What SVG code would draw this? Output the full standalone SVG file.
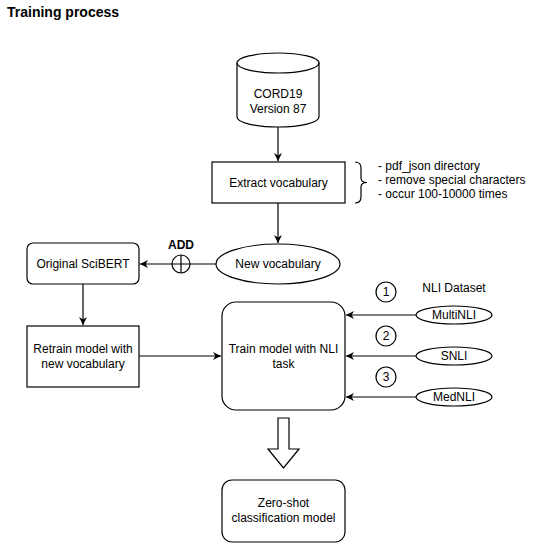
<svg xmlns="http://www.w3.org/2000/svg" width="537" height="550" viewBox="0 0 537 550">
<style>
text{font-family:"Liberation Sans",Arial,sans-serif;font-size:12px;fill:#000}
.c{text-anchor:middle}
.s{fill:#fff;stroke:#000;stroke-width:1.2}
.l{fill:none;stroke:#000;stroke-width:1.2}
.b{font-weight:bold}
</style>
<defs>
<marker id="ah" viewBox="0 0 10 10" refX="10" refY="5" markerWidth="8" markerHeight="8" markerUnits="userSpaceOnUse" orient="auto">
<path d="M0,0 L10,5 L0,10 L3,5 Z" fill="#000"/>
</marker>
</defs>
<rect width="537" height="550" fill="#fff"/>
<text x="7" y="17" class="b" style="font-size:14px">Training process</text>

<g id="connectors">
<line x1="278" y1="127" x2="278" y2="161" class="l" marker-end="url(#ah)"/>
<line x1="278" y1="203" x2="278" y2="243" class="l" marker-end="url(#ah)"/>
<line x1="216" y1="264" x2="140" y2="264" class="l" marker-end="url(#ah)"/>
<line x1="83" y1="284" x2="83" y2="325" class="l" marker-end="url(#ah)"/>
<line x1="139" y1="356" x2="221" y2="356" class="l" marker-end="url(#ah)"/>
<line x1="416" y1="315" x2="346" y2="315" class="l" marker-end="url(#ah)"/>
<line x1="416" y1="356" x2="346" y2="356" class="l" marker-end="url(#ah)"/>
<line x1="416" y1="397" x2="346" y2="397" class="l" marker-end="url(#ah)"/>
<path d="M278,418 L289,418 L289,449 L299,449 L283.5,468 L268,449 L278,449 Z" class="s"/>
</g>

<g id="add">
<circle cx="181" cy="264" r="9" class="s"/>
<path d="M172,264 H190 M181,255 V273" class="l"/>
<text x="181" y="249" class="c b">ADD</text>
</g>

<g id="cord19">
<path d="M237,63 A41,10 0 0 1 319,63 V117 A41,10 0 0 1 237,117 Z" class="s"/>
<path d="M237,63 A41,10 0 0 0 319,63" class="l"/>
<text x="278" y="98" class="c">CORD19</text>
<text x="278" y="113" class="c">Version 87</text>
</g>

<g id="extract">
<rect x="212" y="162" width="133" height="41" class="s"/>
<text x="278.5" y="187" class="c">Extract vocabulary</text>
</g>

<g id="notes">
<path d="M355,162 Q361,162 361,168 V178 Q361,182.5 367,182.5 Q361,182.5 361,187 V197 Q361,203 355,203" class="l"/>
<text x="378" y="170">- pdf_json directory</text>
<text x="378" y="184">- remove special characters</text>
<text x="378" y="198">- occur 100-10000 times</text>
</g>

<g id="newvocab">
<ellipse cx="278" cy="264" rx="62" ry="20" class="s"/>
<text x="278" y="268" class="c">New vocabulary</text>
</g>

<g id="scibert">
<rect x="27" y="243" width="112" height="41" rx="6" class="s"/>
<text x="83" y="268" class="c">Original SciBERT</text>
</g>

<g id="retrain">
<rect x="27" y="326" width="112" height="61" class="s"/>
<text x="83" y="353" class="c">Retrain model with</text>
<text x="83" y="368" class="c">new vocabulary</text>
</g>

<g id="train">
<rect x="222" y="302" width="123" height="108" rx="14" class="s"/>
<text x="283.5" y="353" class="c">Train model with NLI</text>
<text x="283.5" y="368" class="c">task</text>
</g>

<g id="nli">
<text x="454" y="292" class="c">NLI Dataset</text>
<circle cx="386" cy="292" r="10" class="s"/>
<text x="386" y="296" class="c">1</text>
<circle cx="386" cy="336" r="10" class="s"/>
<text x="386" y="340" class="c">2</text>
<circle cx="386" cy="377" r="10" class="s"/>
<text x="386" y="381" class="c">3</text>
</g>

<g id="multinli">
<ellipse cx="454" cy="315" rx="38" ry="9" class="s"/>
<text x="454" y="319" class="c">MultiNLI</text>
</g>
<g id="snli">
<ellipse cx="454" cy="356" rx="38" ry="9" class="s"/>
<text x="454" y="360" class="c">SNLI</text>
</g>
<g id="mednli">
<ellipse cx="454" cy="397" rx="38" ry="9" class="s"/>
<text x="454" y="401" class="c">MedNLI</text>
</g>

<g id="zeroshot">
<rect x="222" y="480" width="123" height="62" rx="10" class="s"/>
<text x="283.5" y="507" class="c">Zero-shot</text>
<text x="283.5" y="522" class="c">classification model</text>
</g>
</svg>
